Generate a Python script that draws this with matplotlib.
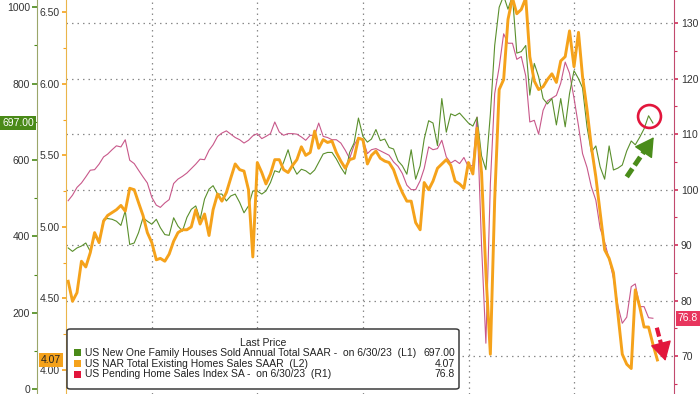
import pandas as pd
import matplotlib
matplotlib.use('Agg')
import matplotlib.pyplot as plt
import matplotlib.dates as mdates
from matplotlib.patches import FancyBboxPatch, Rectangle
from matplotlib.ticker import MultipleLocator, FormatStrFormatter

# monthly data, May 2012 onwards (month-end dates)
new_home = [  # L1, thousands SAAR, to Jun 2023
    370, 361, 370, 375, 383, 361, 401, 387, 445, 447, 445, 440, 429, 467, 379, 383, 410, 449, 440, 432,
    445, 423, 405, 403, 449, 427, 414,
    450, 471, 480, 445, 498, 524, 533, 511, 511, 493, 506, 511, 489, 462, 480, 519, 519, 511, 519, 541,
    572, 568, 594, 627, 585, 563, 576, 572,
    563, 574, 594, 616, 620, 620, 603, 581, 563, 620, 645, 710, 662, 647, 655, 680, 651, 655, 633, 629,
    598, 585, 563, 627, 550, 585, 655,
    703, 697, 638, 761, 673, 721, 716, 723, 710, 697, 689, 712, 611, 575, 720, 900, 1000,
    1030, 995, 1030, 880, 884, 900, 770, 853, 818, 761, 747, 761, 692, 761, 687, 774, 834, 813, 789, 687,
    621, 637, 582, 550, 637, 574, 579, 587, 624, 650, 640, 660, 682, 716, 697,
]
existing = [  # L2, millions SAAR, to Jul 2023
    4.62, 4.48, 4.54, 4.76, 4.72, 4.82, 4.96, 4.89, 5.04, 5.08, 5.10, 5.12, 5.15, 5.11, 5.27, 5.26, 5.17,
    5.08, 4.96, 4.89, 4.77, 4.78, 4.76, 4.81, 4.90, 4.96, 4.98,
    4.98, 5.00, 5.12, 5.02, 5.09, 4.94, 5.12, 5.23, 5.18, 5.24, 5.34, 5.44, 5.40, 5.39, 5.26, 4.79, 5.45,
    5.38, 5.30, 5.37, 5.47, 5.47, 5.40, 5.38, 5.43, 5.47, 5.56, 5.50,
    5.52, 5.67, 5.55, 5.61, 5.59, 5.60, 5.52, 5.46, 5.41, 5.47, 5.48, 5.62, 5.61, 5.44, 5.50, 5.53, 5.48,
    5.46, 5.45, 5.40, 5.31, 5.24, 5.18, 5.18, 5.03, 4.98, 5.31,
    5.26, 5.32, 5.41, 5.44, 5.47, 5.43, 5.32, 5.30, 5.27, 5.45, 5.37, 5.69, 5.38, 4.68, 4.11, 5.19, 5.96,
    6.03, 6.45, 6.60, 6.49, 6.52, 6.60, 6.19, 6.02, 5.96, 5.98, 6.03, 6.07, 6.01, 6.16, 6.19, 6.37, 6.12,
    6.36, 6.05, 5.82, 5.56, 5.35, 5.10, 4.84, 4.78, 4.68, 4.39, 4.11, 4.04, 4.01, 4.56, 4.44, 4.30, 4.30,
    4.18, 4.07,
]
pending = [  # R1, index, to Jun 2023
    98.0, 99.0, 100.4, 101.2, 102.3, 103.5, 103.6, 104.6, 105.9, 106.4, 107.2, 107.9, 107.7, 109.0, 105.3,
    104.7, 103.5, 102.3, 101.2, 98.6, 97.2, 96.8, 97.6, 98.2, 101.1, 101.9, 102.4,
    103.0, 103.8, 104.6, 105.5, 105.4, 107.1, 108.1, 109.6, 110.2, 110.6, 110.0, 109.4, 109.0, 108.4,
    108.9, 109.7, 110.1, 109.2, 109.6, 110.1, 112.2, 110.4, 109.8, 110.1, 110.1, 110.0, 109.5, 108.9,
    109.8, 109.8, 112.0, 109.6, 109.4, 109.0, 109.0, 108.4, 107.1, 105.6, 108.0, 109.4, 109.1, 106.5,
    107.2, 107.4, 107.0, 106.6, 106.2, 105.0, 104.2, 102.9, 100.8, 100.0, 100.0, 101.6, 103.8,
    107.7, 107.2, 107.4, 108.9, 105.9, 104.8, 105.3, 104.7, 105.8, 104.1, 104.4, 113.1, 90.0, 72.3,
    101.1, 117.3, 122.1,
    128.1, 126.4, 126.4, 123.5, 124.0, 120.5, 112.2, 112.5, 110.0, 114.3, 116.0, 116.5, 117.0, 119.2,
    123.0, 121.0, 116.5, 111.5, 106.5, 104.0, 100.5, 98.1, 93.0, 90.5, 87.5, 84.0, 79.0, 75.9, 77.0,
    82.5, 83.0, 78.9, 78.9, 76.9, 76.8,
]

labels = [
    'US New One Family Houses Sold Annual Total SAAR -  on 6/30/23  (L1)',
    'US NAR Total Existing Homes Sales SAAR  (L2)',
    'US Pending Home Sales Index SA -  on 6/30/23  (R1)',
]

dates = pd.date_range('2012-05-01', periods=len(existing), freq='MS') + pd.offsets.MonthEnd(0)
d_new = dates[:len(new_home)]
d_exist = dates[:len(existing)]
d_pend = dates[:len(pending)]

plt.rcParams['font.family'] = ['Liberation Sans', 'DejaVu Sans']
plt.rcParams['font.size'] = 7.5

GREEN = '#5a8f2c'
GREEN_BOX = '#4a8a18'
ORANGE = '#f5a21b'
PINK = '#c8588a'
RED = '#e2163c'
TXT = '#333333'

W, H = 700, 394
fig = plt.figure(figsize=(7, 3.94), dpi=100)

# R1 host axes, two left-hand twins
axr = fig.add_axes([66 / W, 0, 608 / W, 1])
ax2 = axr.twinx()
ax1 = axr.twinx()
axr.set_zorder(1)
ax1.set_zorder(2)
ax2.set_zorder(3)
for a in (ax1, ax2):
    a.patch.set_visible(False)
for a in (axr, ax1, ax2):
    for s in a.spines.values():
        s.set_visible(False)

axr.plot(d_pend, pending, color=PINK, lw=0.8)
ax1.plot(d_new, new_home, color=GREEN, lw=0.8)
ax2.plot(d_exist, existing, color=ORANGE, lw=2.1, solid_joinstyle='round')

axr.set_xlim(pd.Timestamp('2012-05-16'), pd.Timestamp('2023-11-23'))
axr.set_xticks([pd.Timestamp(f'{y}-01-01') for y in range(2014, 2023, 2)])
axr.tick_params(axis='x', length=0, labelbottom=False)

axr.set_ylim(63.14, 134.2)
ax2.set_ylim(3.832, 6.586)
ax1.set_ylim(-12.3, 1019)

# right axis
axr.yaxis.tick_right()
axr.yaxis.set_major_locator(MultipleLocator(10))
axr.yaxis.set_minor_locator(MultipleLocator(5))
axr.spines['right'].set_visible(True)
axr.spines['right'].set_color('#c24a6e')
axr.tick_params(axis='y', which='both', direction='out', color='#d0305a', labelcolor=TXT,
                left=False, right=True, labelleft=False, labelright=True, pad=2)
axr.tick_params(axis='y', which='major', length=3, width=1.2)
axr.tick_params(axis='y', which='minor', length=2, width=0.8)
axr.grid(True, which='major', axis='both', color='#8a8a8a', lw=0.9, ls=(0, (1.2, 3.2)))

# inner left axis (existing sales)
ax2.yaxis.tick_left()
ax2.yaxis.set_major_locator(MultipleLocator(0.5))
ax2.yaxis.set_minor_locator(MultipleLocator(0.25))
ax2.yaxis.set_major_formatter(FormatStrFormatter('%.2f'))
ax2.spines['left'].set_visible(True)
ax2.spines['left'].set_color('#eab54a')
ax2.tick_params(axis='y', which='both', direction='out', color=ORANGE, labelcolor=TXT,
                left=True, right=False, labelleft=True, labelright=False, pad=1.5)
ax2.tick_params(axis='y', which='major', length=3, width=1.2)
ax2.tick_params(axis='y', which='minor', length=2, width=0.8)

# outer left axis (new home sales)
ax1.yaxis.tick_left()
ax1.yaxis.set_major_locator(MultipleLocator(200))
ax1.yaxis.set_minor_locator(MultipleLocator(100))
ax1.spines['left'].set_visible(True)
ax1.spines['left'].set_position(('outward', 29 * 72 / 100))
ax1.spines['left'].set_color('#9aa66a')
ax1.tick_params(axis='y', which='both', direction='out', color=GREEN_BOX, labelcolor=TXT,
                left=True, right=False, labelleft=True, labelright=False, pad=1.5)
ax1.tick_params(axis='y', which='major', length=3.5, width=1.2)
ax1.tick_params(axis='y', which='minor', length=2, width=0.8)

# last-value tags
def tag(a, xf, val, text, fc, tc):
    a.text(xf, val, text, transform=a.get_yaxis_transform(), ha='center', va='center',
           color=tc, clip_on=False, zorder=20,
           bbox=dict(boxstyle='square,pad=0.22', fc=fc, ec='none'))

tag(ax1, (18 - 66) / 608, new_home[-1], f'{new_home[-1]:.2f}', GREEN_BOX, 'white')
tag(ax2, (51 - 66) / 608, existing[-1], f'{existing[-1]:.2f}', ORANGE, '#222222')
tag(axr, (688 - 66) / 608, pending[-1], f'{pending[-1]:.1f}', '#e8365e', 'white')

# annotations: circle on the recent peak, dashed arrows
pk = len(new_home) - 6 + max(range(6), key=lambda k: new_home[-6 + k])
ax1.plot(d_new[pk], new_home[pk], 'o', ms=16.5, mfc='none', mec=RED, mew=1.9, zorder=5)

def dashed_arrow(src_ax, p0, p1, color, lw, dashes, split=0.68):
    t = src_ax.transData
    x0, y0 = mdates.date2num(pd.Timestamp(p0[0])), p0[1]
    x1, y1 = mdates.date2num(pd.Timestamp(p1[0])), p1[1]
    xm, ym = x0 + split * (x1 - x0), y0 + split * (y1 - y0)
    ax2.plot([x0, xm], [y0, ym], transform=t, color=color, lw=lw, dashes=dashes,
             solid_capstyle='butt', dash_capstyle='butt', scalex=False, scaley=False,
             clip_on=False, zorder=15)
    ax2.annotate('', xy=(x1, y1), xycoords=t, xytext=(xm, ym), textcoords=t,
                 arrowprops=dict(arrowstyle='-|>,head_length=0.6,head_width=0.34', lw=1,
                                 color=color, mutation_scale=20, shrinkA=0, shrinkB=0),
                 annotation_clip=False, zorder=15)

dashed_arrow(ax1, ('2022-12-31', 556), ('2023-07-06', 660), '#4a8c1a', 3.6, (2.0, 0.8))
dashed_arrow(axr, ('2023-07-27', 75.1), ('2023-09-25', 69.1), RED, 3.0, (2.2, 0.8), split=0.62)

# legend box
box = FancyBboxPatch((67 / W, 1 - 389 / H), 392 / W, 60 / H, boxstyle='round,pad=0,rounding_size=0.005',
                     transform=fig.transFigure, fc='white', ec='#3c3c3c', lw=1.1, zorder=10)
fig.add_artist(box)
fig.text(263 / W, 1 - 342.5 / H, 'Last Price', ha='center', va='center', color='#222222', zorder=11)
values = [f'{new_home[-1]:.2f}', f'{existing[-1]:.2f}', f'{pending[-1]:.1f}']
colors = [GREEN_BOX, ORANGE, RED]
for k in range(3):
    y = 1 - (352.8 + 10.8 * k) / H
    fig.add_artist(Rectangle((74 / W, y - 3.6 / H), 7 / W, 7.2 / H, transform=fig.transFigure,
                             fc=colors[k], ec='none', zorder=11))
    fig.text(85 / W, y, labels[k], ha='left', va='center', color='#222222', zorder=11)
    fig.text(455 / W, y, values[k], ha='right', va='center', color='#222222', zorder=11)

fig.savefig('out.png', dpi=100, facecolor='white')
